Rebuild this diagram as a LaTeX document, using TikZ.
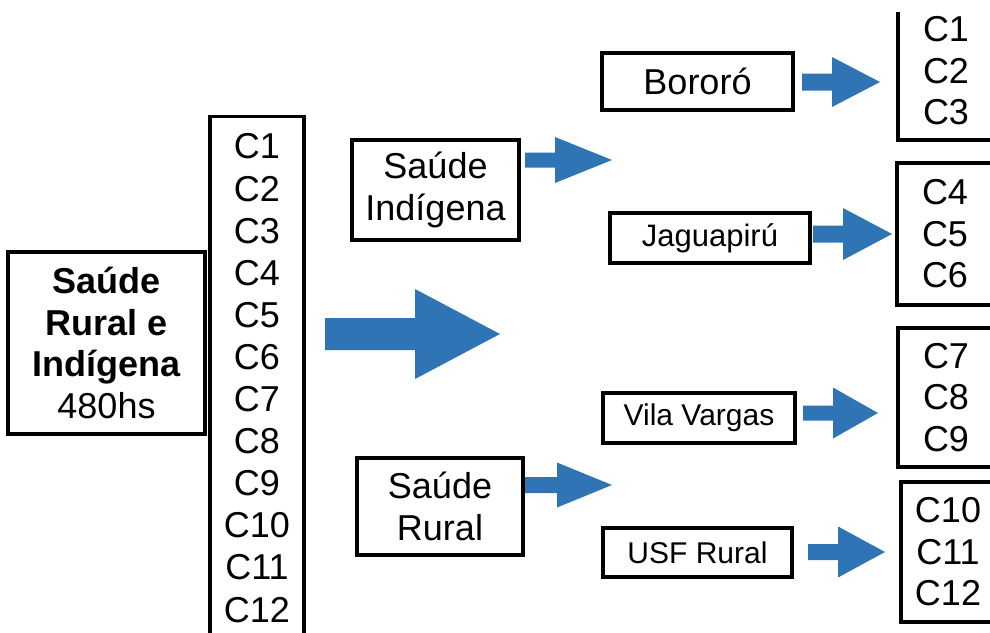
\documentclass[tikz,border=0pt]{standalone}
\usepackage{fontspec}
\setmainfont{Liberation Sans}
\definecolor{arrowblue}{RGB}{47,117,181}
\newcommand\blockarr[6]{% start x, centre y, head start x, tip x, shaft half, head half
  \fill[arrowblue] ({#1},{#2-#5}) -- ({#3},{#2-#5}) -- ({#3},{#2-#6}) -- ({#4},{#2})
    -- ({#3},{#2+#6}) -- ({#3},{#2+#5}) -- ({#1},{#2+#5}) -- cycle;}
\begin{document}
\begin{tikzpicture}[x=1pt,y=-1pt,
  frame/.style={draw, line width=3.2pt, inner sep=0pt, align=center,
    font=\fontsize{36}{41.5}\selectfont},
  smallframe/.style={frame, font=\fontsize{31}{36}\selectfont},
  plain/.style={inner sep=0pt, align=center, font=\fontsize{36}{41.5}\selectfont}]
\useasboundingbox (0,0) rectangle (990,632);
\clip (0,0) rectangle (990,632);

% left block
\node[frame, minimum width=197pt, minimum height=182pt] (main) at (106.5,343)
  {\textbf{Saúde}\\\textbf{Rural e}\\\textbf{Indígena}\\480hs};

% column of C1..C12
\node[frame, font=\fontsize{36}{42.1}\selectfont, minimum width=94pt, minimum height=523pt, anchor=north] (col) at (257,115)
  {C1\\C2\\C3\\C4\\C5\\C6\\C7\\C8\\C9\\C10\\C11\\C12};

% middle boxes
\node[frame, minimum width=167pt, minimum height=100pt] (si) at (435.5,190) {Saúde\\Indígena};
\node[frame, minimum width=166pt, minimum height=97pt] (sr) at (440,506.5) {Saúde\\Rural};

% place boxes
\node[frame, minimum width=191pt, minimum height=57pt] (bor) at (697.5,81.5) {Bororó};
\node[smallframe, minimum width=200pt, minimum height=50pt] (jag) at (710,238) {Jaguapirú};
\node[smallframe, font=\fontsize{30}{36}\selectfont, minimum width=192pt, minimum height=50pt] (vv) at (699,418) {Vila Vargas};
\node[smallframe, font=\fontsize{30}{36}\selectfont, minimum width=189pt, minimum height=49pt] (usf) at (697.5,552.5) {USF Rural};

% right groups
\node[plain] (grpA) at (946,71) {C1\\C2\\C3};
\draw[line width=3.2pt] (898,12) -- (898,140) -- (1000,140);
\node[frame, minimum width=96pt, minimum height=142pt] (grpB) at (945,234) {C4\\C5\\C6};
\node[frame, minimum width=96pt, minimum height=139pt] (grpC) at (946,397.5) {C7\\C8\\C9};
\node[frame, minimum width=94pt, minimum height=140pt] (grpD) at (948,552) {C10\\C11\\C12};

% block arrows
\blockarr{325}{334}{415}{500}{16}{45}
\blockarr{525}{160}{555}{612}{7.5}{23}
\blockarr{525}{485}{557}{612}{8}{22.5}
\blockarr{802}{82}{832}{880}{8.5}{25}
\blockarr{813}{234}{843}{892}{8.5}{26}
\blockarr{803}{413}{833}{878}{7.5}{25.5}
\blockarr{808}{552}{838}{885}{8}{25.5}
\end{tikzpicture}
\end{document}
